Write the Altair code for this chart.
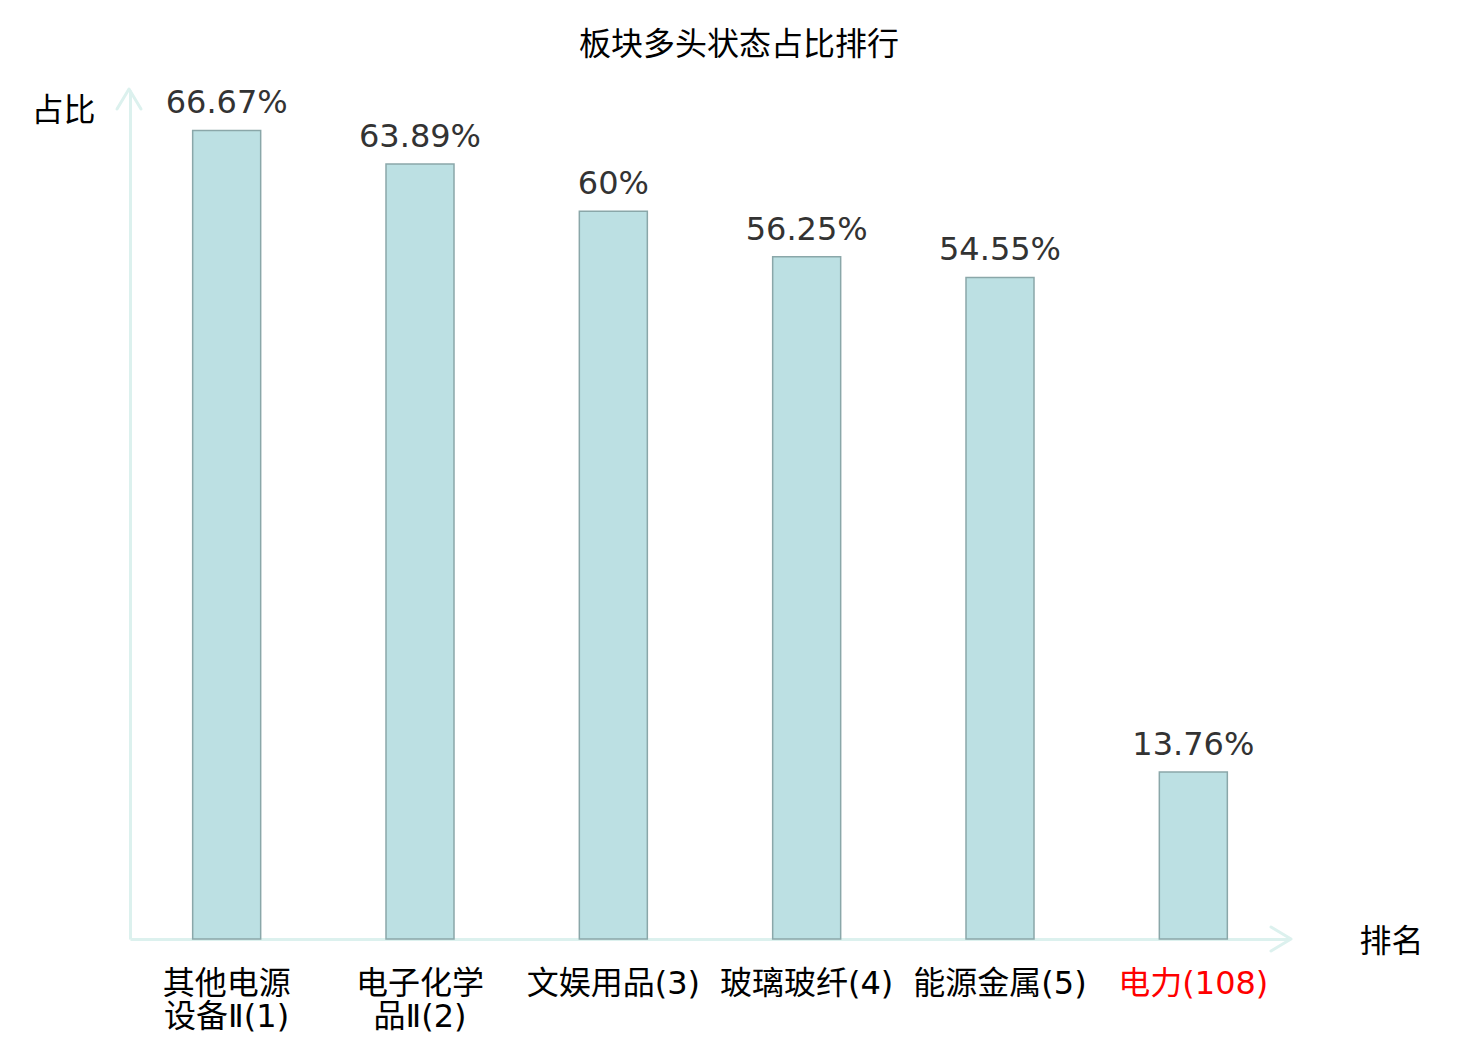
import altair as alt
import pandas as pd

categories = ["其他电源\n设备Ⅱ(1)", "电子化学\n品Ⅱ(2)", "文娱用品(3)", "玻璃玻纤(4)", "能源金属(5)", "电力(108)"]
values = [66.67, 63.89, 60.0, 56.25, 54.55, 13.76]

df = pd.DataFrame({"cat": categories, "v": values})

AXIS_COLOR = "#dcf1ee"
CJK = "Noto Sans CJK SC"
LABEL_FONT = "DejaVu Sans ExtraLight, DejaVu Sans, Noto Sans CJK SC"

base = alt.Chart(df)

bars = base.mark_bar(size=68, color="#bce0e3", stroke="#8aa7a9", strokeWidth=1.5).encode(
    x=alt.X("cat:N", sort=categories,
            scale=alt.Scale(paddingInner=0, paddingOuter=0),
            axis=alt.Axis(title="排名", titleFont=CJK, titleFontSize=32, titleFontWeight="normal",
                          titleColor="#000000", titleX=1261, titleY=2, titleAlign="center",
                          titleBaseline="middle", titleAngle=0,
                          labelAngle=0, labelFont=LABEL_FONT, labelFontSize=32, labelLineHeight=33,
                          labelPadding=29, labelBaseline="top",
                          labelExpr="split(datum.label, '\\n')",
                          labelColor={"expr": "datum.value == '电力(108)' ? '#ff0000' : '#000000'"},
                          ticks=False, domainColor=AXIS_COLOR, domainWidth=3, grid=False)),
    y=alt.Y("v:Q", scale=alt.Scale(domain=[0, 70], nice=False),
            axis=alt.Axis(title="占比", titleFont=CJK, titleFontSize=32, titleFontWeight="normal",
                          titleColor="#000000", titleAngle=0, titleX=-67, titleY=20,
                          titleAlign="center", titleBaseline="middle",
                          labels=False, ticks=False, grid=False,
                          domainColor=AXIS_COLOR, domainWidth=3)),
)

texts = base.transform_calculate(lbl="format(datum.v, '.2~f') + '%'").mark_text(
    font="DejaVu Sans", fontSize=32, color="#333333", baseline="alphabetic", dy=-17
).encode(x=alt.X("cat:N", sort=categories), y="v:Q", text="lbl:N")

arrow_df = pd.DataFrame({"a": [0]})
y_arrow = alt.Chart(arrow_df).mark_point(
    shape="M-0.6,1 L0,0 L0.6,1", size=1600, filled=False, opacity=1,
    stroke=AXIS_COLOR, strokeWidth=3, strokeCap="round", strokeJoin="round"
).encode(x=alt.value(-1), y=alt.value(-1))
x_arrow = alt.Chart(arrow_df).mark_point(
    shape="M-1,-0.6 L0,0 L-1,0.6", size=1600, filled=False, opacity=1,
    stroke=AXIS_COLOR, strokeWidth=3, strokeCap="round", strokeJoin="round"
).encode(x=alt.value(1161), y=alt.value(849))

chart = alt.layer(bars, texts, y_arrow, x_arrow).properties(
    width=1160, height=849,
    background="white",
    title=alt.TitleParams("板块多头状态占比排行", font=CJK, fontSize=32, fontWeight="normal",
                          color="#000000", anchor="middle", dx=29, offset=25),
    autosize=alt.AutoSizeParams(type="none"),
    padding={"left": 122, "top": 82, "right": 170, "bottom": 100},
).configure_view(stroke="transparent", strokeWidth=0)

chart.save("out.html", embed_options={"renderer": "svg", "actions": False})
